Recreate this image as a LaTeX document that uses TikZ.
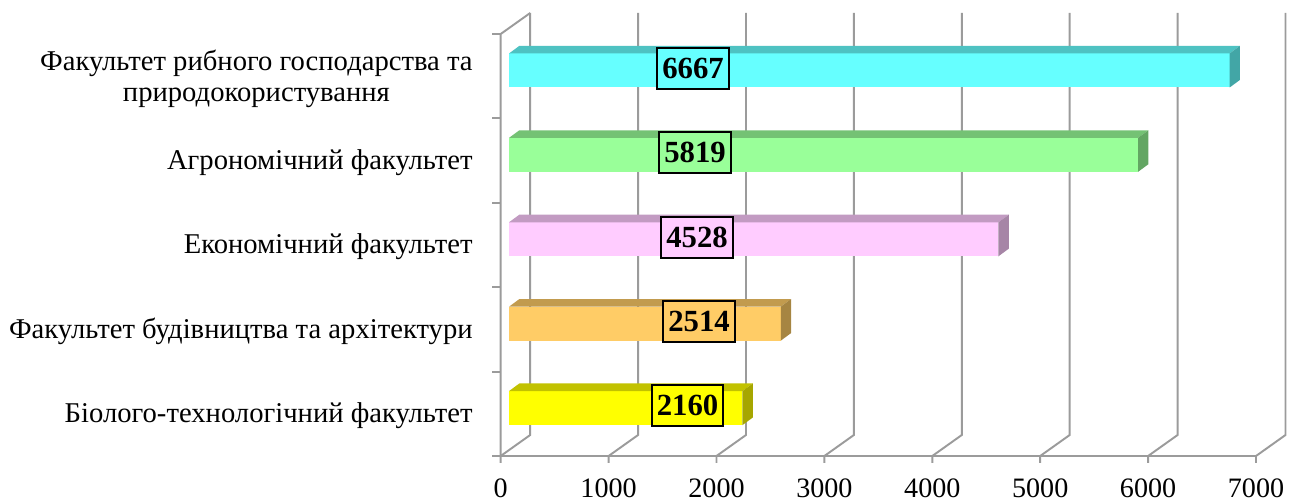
\documentclass[tikz,border=0pt]{standalone}
\usepackage{fontspec}
\setmainfont{Liberation Serif}
\usepackage{tikz}
\tikzset{
  gridline/.style  = {draw=axisgrey, line width=1.1pt},
  catlabel/.style  = {anchor=east, align=center, inner sep=0pt,
                      font=\fontsize{16.3}{17.8}\selectfont},
  ticklabel/.style = {inner sep=0pt, font=\fontsize{16}{17.6}\selectfont},
  vallabel/.style  = {draw=black, line width=1.1pt, inner sep=0pt,
                      minimum width=40.8pt, minimum height=23.3pt,
                      font=\fontsize{17.5}{19}\selectfont\bfseries},
}
\definecolor{axisgrey}{RGB}{155,155,155}
\definecolor{fishcol}{RGB}{102,255,255}
\definecolor{agrocol}{RGB}{153,255,153}
\definecolor{econcol}{RGB}{255,204,255}
\definecolor{buildcol}{RGB}{255,204,102}
\definecolor{biocol}{RGB}{255,255,0}

\begin{document}
\begin{tikzpicture}
  [
    x = 0.02cm,
    y = -0.02cm,
  ]
  \useasboundingbox (0,0) rectangle (1302,502);
  % walls and grid
  \foreach \i in {0,...,7}
    \draw[gridline] (500.7+107.9*\i,463) -- (500.7+107.9*\i,456)
      -- ++(29.5,-21) -- ++(0,-422);
  \draw[gridline] (500.7,456) -- (500.7,34) -- ++(29.5,-21);
  \draw[gridline] (500.7,456) -- (1256,456);
  \foreach \k in {0,...,5}
    \draw[gridline] (492,34+84.4*\k) -- (500.7,34+84.4*\k);
  % bars and values
  \foreach \val/\col/\k/\lx in {6667/fishcol/0/693, 5819/agrocol/1/695,
      4528/econcol/2/697, 2514/buildcol/3/699, 2160/biocol/4/687.5} {
    \pgfmathsetmacro\barlen{0.1081*\val}
    \pgfmathsetmacro\bartop{53.5+84.4*\k}
    \fill[\col] (509,\bartop) rectangle ++(\barlen,34);
    \fill[\col!76!black] (509,\bartop) -- ++(10.3,-7.6) -- ++(\barlen,0)
      -- ++(-10.3,7.6) -- cycle;
    \fill[\col!65!black] (509+\barlen,\bartop) -- ++(10.3,-7.6) -- ++(0,34)
      -- ++(-10.3,7.6) -- cycle;
    \node[vallabel, fill=\col] (v\k) at (\lx,\bartop+14.8) {\val};
  }
  % faculties
  \node[catlabel] (fish)  at (473,78.5)  {Факультет рибного господарства та\\природокористування};
  \node[catlabel] (agro)  at (473,162.7) {Агрономічний факультет};
  \node[catlabel] (econ)  at (473,246.9) {Економічний факультет};
  \node[catlabel] (build) at (473,331.1) {Факультет будівництва та архітектури};
  \node[catlabel] (bio)   at (473,415.3) {Біолого-технологічний факультет};
  % axis values
  \foreach \i [evaluate=\i as \lab using int(1000*\i)] in {0,...,7}
    \node[ticklabel] (t\i) at (500.7+107.9*\i,488) {\lab};
\end{tikzpicture}
\end{document}
